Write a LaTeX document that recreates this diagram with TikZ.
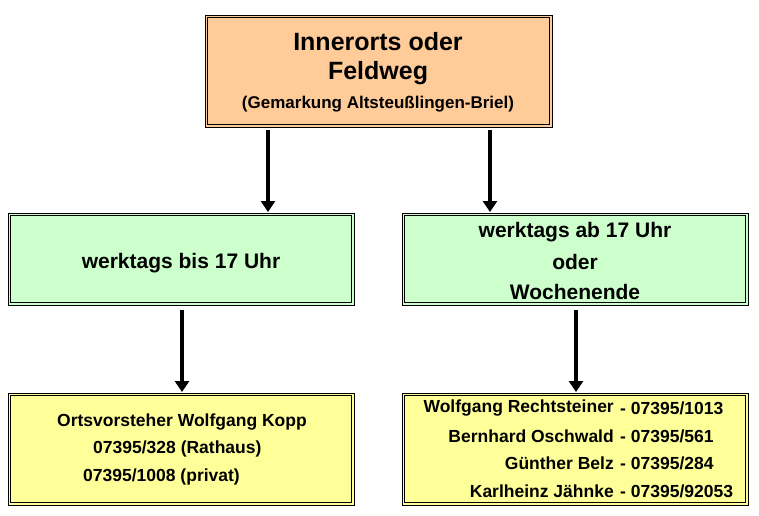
\documentclass[tikz,border=0pt]{standalone}
\usepackage{fontspec}
\setmainfont{Liberation Sans}
\usetikzlibrary{arrows.meta}
\definecolor{orng}{HTML}{FFCC99}
\definecolor{grn}{HTML}{CCFFCC}
\definecolor{ylw}{HTML}{FFFF99}
\begin{document}
\begin{tikzpicture}[x=1pt,y=-1pt,
  arr/.style={line width=3.5pt,-{Triangle[length=11pt,width=14pt]}},
  t/.style={inner sep=0pt,font=\bfseries}]
\newcommand{\dbox}[5]{\fill[#5] (#1,#2) rectangle (#3,#4);
  \draw[line width=0.8pt] (#1,#2) rectangle (#3,#4);
  \draw[line width=0.8pt] (#1+2.5,#2+2.5) rectangle (#3-2.5,#4-2.5);}
\useasboundingbox (0,0) rectangle (759,515);
\dbox{205}{15}{552}{127}{orng}
\coordinate (topL) at (268,130); \coordinate (topR) at (490,130);
\node[t,font=\bfseries\fontsize{25}{30}\selectfont] (t1) at (378,42) {Innerorts oder};
\node[t,font=\bfseries\fontsize{25}{30}\selectfont] (t2) at (378,73) {Feldweg};
\node[t,font=\bfseries\fontsize{17}{20}\selectfont] (t3) at (378,104) {(Gemarkung Altsteußlingen-Briel)};

\dbox{8}{213}{354}{305}{grn}
\dbox{402}{213}{748}{305}{grn}
\coordinate (gL) at (268,212); \coordinate (gR) at (490,212);
\node[t,font=\bfseries\fontsize{21}{25}\selectfont] (g1) at (181,263) {werktags bis 17 Uhr};
\node[t,font=\bfseries\fontsize{21}{25}\selectfont] (g2) at (575,232) {werktags ab 17 Uhr};
\node[t,font=\bfseries\fontsize{21}{25}\selectfont] (g3) at (575,262) {oder};
\node[t,font=\bfseries\fontsize{21}{25}\selectfont] (g4) at (575,292) {Wochenende};

\dbox{8}{393}{354}{505}{ylw}
\dbox{402}{393}{748}{505}{ylw}
\coordinate (gLb) at (182,310); \coordinate (gRb) at (576,310);
\coordinate (yL) at (182,392); \coordinate (yR) at (576,392);
\node[t,font=\bfseries\fontsize{17.5}{21}\selectfont] (y1) at (182,422) {Ortsvorsteher Wolfgang Kopp};
\node[t,font=\bfseries\fontsize{17.5}{21}\selectfont,anchor=west] (y2) at (93,449) {07395/328 (Rathaus)};
\node[t,font=\bfseries\fontsize{17.5}{21}\selectfont,anchor=west] (y3) at (83,477) {07395/1008 (privat)};
\foreach \n/\p/\yy [count=\i] in {Wolfgang Rechtsteiner/1013/408,Bernhard Oschwald/561/436,Günther Belz/284/463,Karlheinz Jähnke/92053/491}{
  \node[t,font=\bfseries\fontsize{17.5}{21}\selectfont,anchor=east] (n\i) at (614,\yy) {\n};
  \node[t,font=\bfseries\fontsize{17.5}{21}\selectfont,anchor=west] (p\i) at (620,\yy) {- 07395/\p};
}
\draw[arr] (topL) -- (gL);
\draw[arr] (topR) -- (gR);
\draw[arr] (gLb) -- (yL);
\draw[arr] (gRb) -- (yR);
\end{tikzpicture}
\end{document}
